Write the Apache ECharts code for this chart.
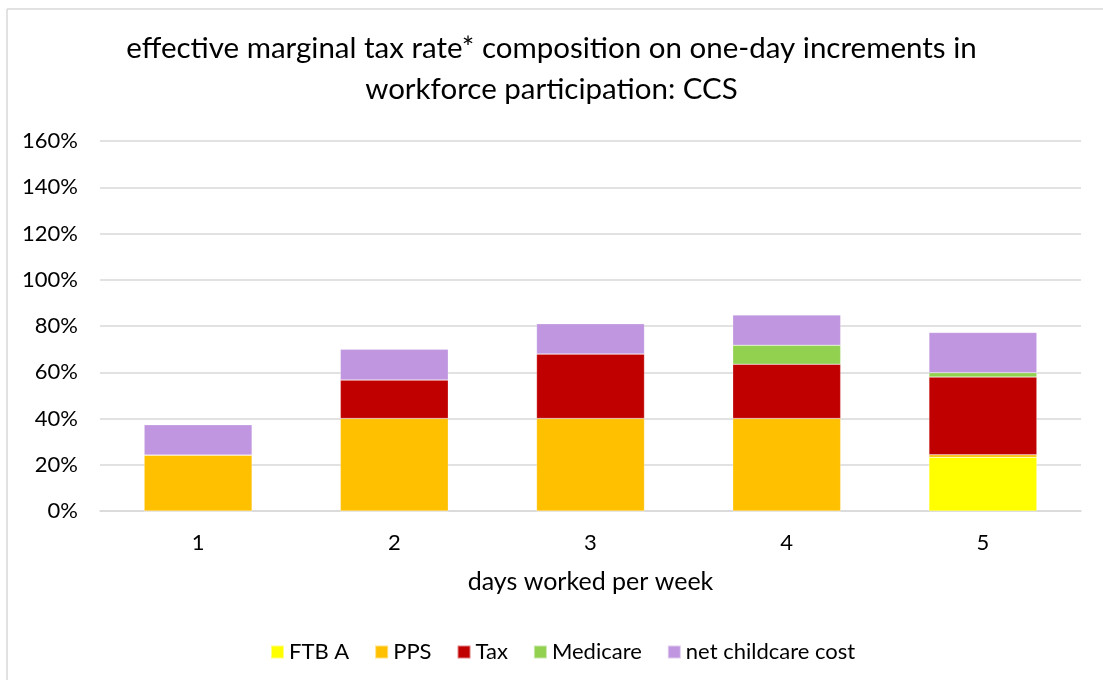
<!DOCTYPE html>
<html>
<head>
<meta charset="utf-8">
<script src="https://cdn.jsdelivr.net/npm/echarts@6/dist/echarts.min.js"></script>
<style>
  html, body { margin: 0; padding: 0; background: #fff; }
  #main { width: 1103px; height: 680px; }
</style>
</head>
<body>
<div id="main"></div>
<script>
// days worked per week
const days = ['1', '2', '3', '4', '5'];
// EMTR components, percent
const ftbA = [0, 0, 0, 0, 23.2];
const pps = [24.2, 40, 40, 40, 1.1];
const tax = [0, 16.7, 27.9, 23.5, 33.6];
const medicare = [0, 0, 0, 8.2, 1.9];
const childcare = [13.1, 13.2, 13.1, 13.1, 17.4];

const FONT = 'Lato';

function bar(name, data, color) {
  return {
    name: name,
    type: 'bar',
    stack: 'emtr',
    barWidth: '55%',
    data: data,
    itemStyle: { color: color, borderColor: 'rgba(255,255,255,0.5)', borderWidth: 0.5 }
  };
}

const chart = echarts.init(document.getElementById('main'));
chart.setOption({
  animation: false,
  textStyle: { fontFamily: FONT },
  title: {
    text: 'effective marginal tax rate* composition on one-day increments in\nworkforce participation: CCS',
    left: 'center',
    top: 23,
    textStyle: { fontFamily: FONT, fontSize: 29.5, fontWeight: 'normal', color: '#000', lineHeight: 41 }
  },
  graphic: [
    { type: 'line', shape: { x1: 7, y1: 9, x2: 1103, y2: 9 }, style: { stroke: '#d9d9d9', lineWidth: 1.5 } },
    { type: 'line', shape: { x1: 7, y1: 9, x2: 7, y2: 680 }, style: { stroke: '#d9d9d9', lineWidth: 1.5 } }
  ],
  legend: {
    bottom: 12,
    left: 265,
    itemWidth: 13,
    itemHeight: 13,
    itemGap: 25,
    icon: 'rect',
    textStyle: { fontFamily: FONT, fontSize: 22, color: '#000' }
  },
  grid: { left: 100, right: 22, top: 141, bottom: 169 },
  xAxis: {
    type: 'category',
    data: days,
    name: 'days worked per week',
    nameLocation: 'middle',
    nameGap: 58,
    nameTextStyle: { fontFamily: FONT, fontSize: 25, color: '#000' },
    axisLine: { lineStyle: { color: '#d9d9d9', width: 1.5 } },
    axisTick: { show: false },
    axisLabel: { fontFamily: FONT, fontSize: 22, color: '#000', margin: 21 }
  },
  yAxis: {
    type: 'value',
    min: 0,
    max: 160,
    interval: 20,
    axisLine: { show: false },
    axisTick: { show: false },
    splitLine: { lineStyle: { color: '#d9d9d9', width: 1.5 } },
    axisLabel: { fontFamily: FONT, fontSize: 22, color: '#000', margin: 22, formatter: '{value}%' }
  },
  series: [
    bar('FTB A', ftbA, '#ffff00'),
    bar('PPS', pps, '#ffc000'),
    bar('Tax', tax, '#c00000'),
    bar('Medicare', medicare, '#92d050'),
    bar('net childcare cost', childcare, '#bf96df')
  ]
});
</script>
</body>
</html>
